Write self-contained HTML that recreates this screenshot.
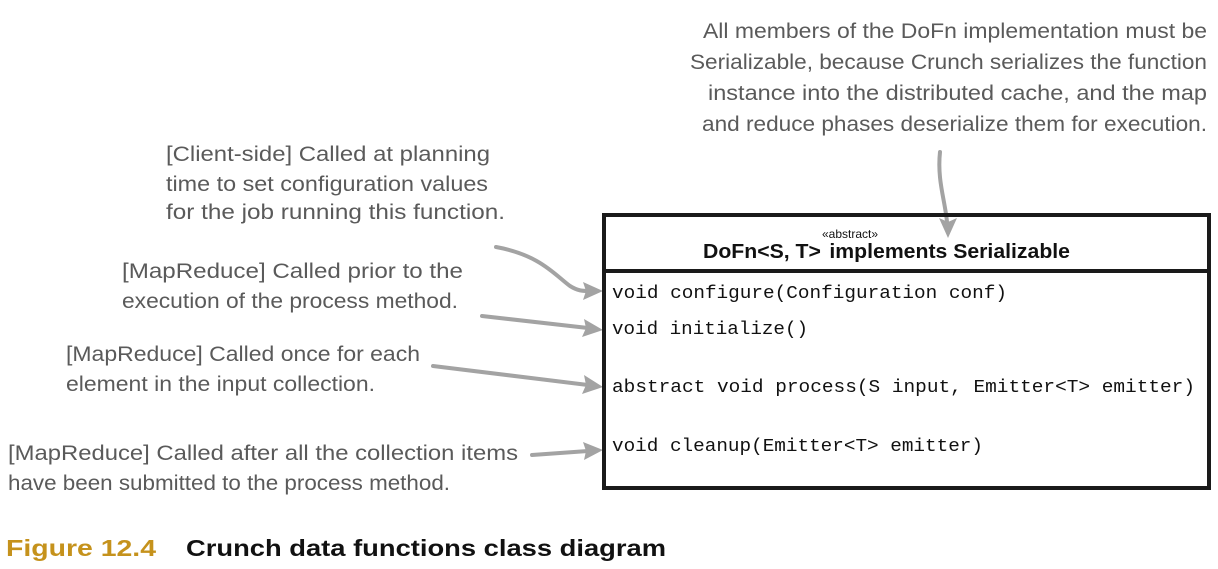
<!DOCTYPE html>
<html><head><meta charset="utf-8"><style>
html,body{margin:0;padding:0;background:#fff;}
svg{display:block;}
.note{font-family:"Liberation Sans",sans-serif;font-size:21px;fill:#5a5a5a;}
.code{font-family:"Liberation Mono",monospace;font-size:18.5px;fill:#111;}
</style></head><body>
<svg width="1218" height="569" viewBox="0 0 1218 569">
<g class="note">
<text x="703" y="38" textLength="504" lengthAdjust="spacingAndGlyphs">All members of the DoFn implementation must be</text>
<text x="690" y="69" textLength="517" lengthAdjust="spacingAndGlyphs">Serializable, because Crunch serializes the function</text>
<text x="708" y="100" textLength="499" lengthAdjust="spacingAndGlyphs">instance into the distributed cache, and the map</text>
<text x="702" y="131" textLength="505" lengthAdjust="spacingAndGlyphs">and reduce phases deserialize them for execution.</text>
</g>
<g class="note">
<text x="166" y="161" textLength="324" lengthAdjust="spacingAndGlyphs">[Client-side] Called at planning</text>
<text x="166" y="191" textLength="322" lengthAdjust="spacingAndGlyphs">time to set configuration values</text>
<text x="166" y="219" textLength="339" lengthAdjust="spacingAndGlyphs">for the job running this function.</text>
</g>
<g class="note">
<text x="122" y="278" textLength="341" lengthAdjust="spacingAndGlyphs">[MapReduce] Called prior to the</text>
<text x="122" y="308" textLength="336" lengthAdjust="spacingAndGlyphs">execution of the process method.</text>
</g>
<g class="note">
<text x="66" y="361" textLength="354" lengthAdjust="spacingAndGlyphs">[MapReduce] Called once for each</text>
<text x="66" y="391" textLength="309" lengthAdjust="spacingAndGlyphs">element in the input collection.</text>
</g>
<g class="note">
<text x="8" y="460" textLength="510" lengthAdjust="spacingAndGlyphs">[MapReduce] Called after all the collection items</text>
<text x="8" y="490" textLength="442" lengthAdjust="spacingAndGlyphs">have been submitted to the process method.</text>
</g>
<g fill="none" stroke="#a3a3a3" stroke-width="4" stroke-linecap="round">
<path d="M496 247 C540 255 555 275 570 286 C578 291 583 291 588 291"/>
<path d="M482 316 L588 328"/>
<path d="M433 366 L588 385"/>
<path d="M532 455 L588 451"/>
<path d="M940 152 C937 180 945 200 947 222"/>
</g>
<g fill="#a3a3a3">
<polygon points="603,291 583,282 586,291 583,300"/>
<polygon points="603,330 584,319 586,328 582,337"/>
<polygon points="603,387 584,375 586,385 582,394"/>
<polygon points="603,450 583,442 586,451 584,460"/>
<polygon points="948,238 939,218 948,222 957,218"/>
</g>
<g>
<rect x="604" y="215" width="605" height="273" fill="none" stroke="#1a1a1a" stroke-width="4"/>
<line x1="604" y1="271" x2="1209" y2="271" stroke="#1a1a1a" stroke-width="4"/>
<text x="850" y="238" text-anchor="middle" font-family="Liberation Sans,sans-serif" font-size="12" fill="#111">«abstract»</text>
<text x="703" y="258" font-family="Liberation Sans,sans-serif" font-size="20" font-weight="bold" fill="#111" textLength="367" lengthAdjust="spacingAndGlyphs">DoFn&lt;S, T&gt;<tspan dx="8">implements Serializable</tspan></text>
<text class="code" x="612" y="298" textLength="395" lengthAdjust="spacingAndGlyphs">void configure(Configuration conf)</text>
<text class="code" x="612" y="334" textLength="196" lengthAdjust="spacingAndGlyphs">void initialize()</text>
<text class="code" x="612" y="392" textLength="583" lengthAdjust="spacingAndGlyphs">abstract void process(S input, Emitter&lt;T&gt; emitter)</text>
<text class="code" x="612" y="451" textLength="371" lengthAdjust="spacingAndGlyphs">void cleanup(Emitter&lt;T&gt; emitter)</text>
</g>
<g font-family="Liberation Sans,sans-serif" font-size="23" font-weight="bold">
<text x="6" y="556" fill="#c5921c" textLength="150" lengthAdjust="spacingAndGlyphs">Figure 12.4</text>
<text x="186" y="556" fill="#111" textLength="480" lengthAdjust="spacingAndGlyphs">Crunch data functions class diagram</text>
</g>
</svg>
</body></html>
